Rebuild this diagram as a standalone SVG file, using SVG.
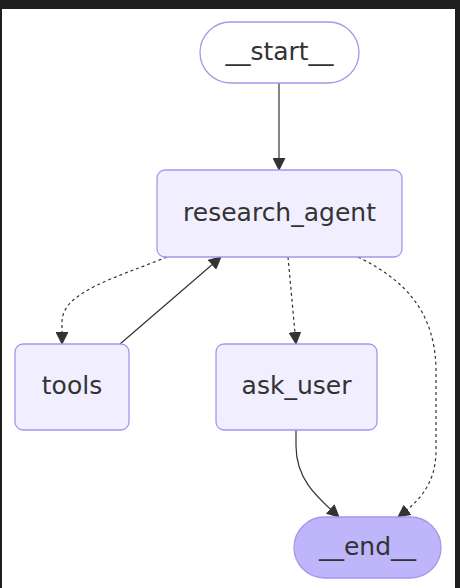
<svg xmlns="http://www.w3.org/2000/svg" width="460" height="588" viewBox="0 0 460 588">
<style>
.node rect{fill:#f1efff;stroke:#ab94ea;stroke-width:1.3}
.node.end rect{fill:#bfb5fa}
.node.start rect{fill:#ffffff}
.node text{font-family:"DejaVu Sans",sans-serif;font-size:25px;fill:#333333;text-anchor:middle;dominant-baseline:central}
.edge{fill:none;stroke:#333333;stroke-width:1.2}
.dot{stroke-dasharray:3,3}
</style>
<defs>
<marker id="arr" markerUnits="userSpaceOnUse" markerWidth="13" markerHeight="13" viewBox="0 0 13 13" refX="12" refY="6.5" orient="auto">
<path d="M0,0 L13,6.5 L0,13 Z" fill="#333333"/>
</marker>
</defs>
<rect x="0" y="0" width="460" height="588" fill="#1e1e1e"/>
<rect x="2" y="9" width="453" height="579" fill="#ffffff"/>
<g id="edges">
<path class="edge" d="M279,83 L279,170" marker-end="url(#arr)"/>
<path class="edge dot" d="M167,257 C115,278 62,292 62,322 L62,344" marker-end="url(#arr)"/>
<path class="edge" d="M120,344 L221,257" marker-end="url(#arr)"/>
<path class="edge dot" d="M288,257 L296,344" marker-end="url(#arr)"/>
<path class="edge dot" d="M358,257 C405,280 436,312 436,372 L436,450 C436,485 418,502 398,517" marker-end="url(#arr)"/>
<path class="edge" d="M296,430 L296,446 C296,480 318,498 339,517" marker-end="url(#arr)"/>
</g>
<g id="start" class="node start">
<rect x="200" y="22" width="159" height="61" rx="30.5"/>
<text x="279.5" y="51">__start__</text>
</g>
<g id="research_agent" class="node">
<rect x="157" y="170" width="245" height="87" rx="8"/>
<text x="279.5" y="212">research_agent</text>
</g>
<g id="tools" class="node">
<rect x="15" y="344" width="114" height="86" rx="8"/>
<text x="72" y="385">tools</text>
</g>
<g id="ask_user" class="node">
<rect x="216" y="344" width="161" height="86" rx="8"/>
<text x="296.5" y="385">ask_user</text>
</g>
<g id="end" class="node end">
<rect x="294" y="517" width="147" height="61" rx="30.5"/>
<text x="367.5" y="546">__end__</text>
</g>
</svg>
